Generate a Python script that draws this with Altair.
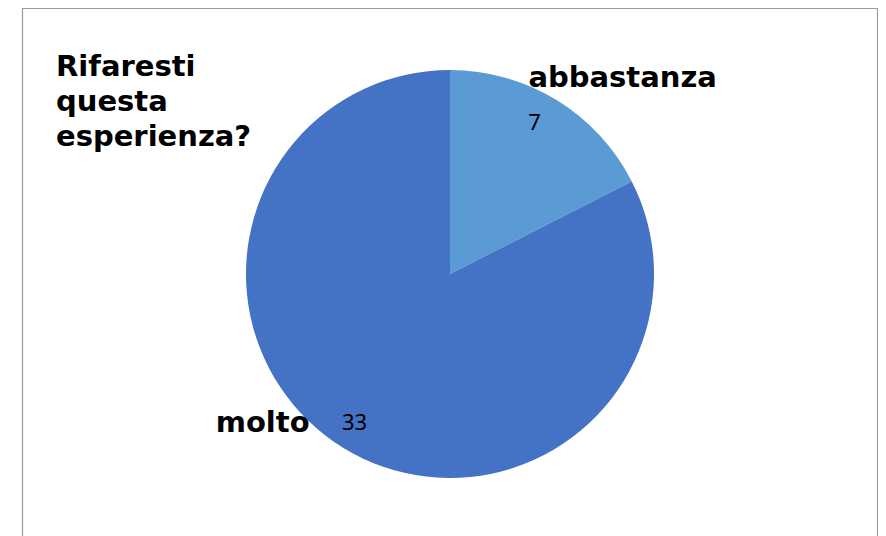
import altair as alt
import pandas as pd

categories = ["abbastanza", "molto"]
values = [7, 33]
colors = ["#5B9BD5", "#4472C4"]
title_lines = ["Rifaresti", "questa", "esperienza?"]

df = pd.DataFrame({"cat": categories, "val": values, "idx": [0, 1]})

CX, CY, R = 442, 266, 204

pie = alt.Chart(df).mark_arc(radius=R, stroke=None).encode(
    theta=alt.Theta("val:Q", stack=True),
    order=alt.Order("idx:Q"),
    x=alt.value(CX),
    y=alt.value(CY),
    color=alt.Color("cat:N", scale=alt.Scale(domain=categories, range=colors), legend=None),
)

lab = alt.Chart(df).transform_window(
    cum="sum(val)", sort=[alt.SortField("idx")], frame=[None, 0]
).transform_calculate(mid="datum.cum - datum.val / 2").encode(
    theta=alt.Theta("mid:Q", stack=False),
    x=alt.value(CX),
    y=alt.value(CY),
)

val_font = dict(font="Noto Sans", fontSize=22, color="#000000", align="center", baseline="middle")
lbl_font = dict(font="DejaVu Sans", fontSize=29, fontWeight="bold", color="#000000", baseline="alphabetic")

v1 = lab.transform_filter(alt.datum.cat == "abbastanza").mark_text(radius=175, dx=-7, dy=-2, **val_font).encode(text="val:Q")
v2 = lab.transform_filter(alt.datum.cat == "molto").mark_text(radius=175, dx=-4, dy=0, **val_font).encode(text="val:Q")
c1 = lab.transform_filter(alt.datum.cat == "abbastanza").mark_text(radius=175, dx=-13, dy=-38, align="left", **lbl_font).encode(text="cat:N")
c2 = lab.transform_filter(alt.datum.cat == "molto").mark_text(radius=175, dx=-49, dy=9, align="right", **lbl_font).encode(text="cat:N")

title = alt.Chart(pd.DataFrame({"t": [0]})).mark_text(
    font="DejaVu Sans", fontSize=29, fontWeight="bold", color="#000000",
    align="left", baseline="alphabetic", lineHeight=35,
).encode(x=alt.value(48), y=alt.value(68), text=alt.value(title_lines))

frame = alt.Chart(pd.DataFrame({"t": [0]})).mark_rect(
    fill=None, stroke="#9a9a9a", strokeWidth=1.2
).encode(x=alt.value(14.5), x2=alt.value(869.5), y=alt.value(0.5), y2=alt.value(600))

chart = alt.layer(frame, pie, v1, v2, c1, c2, title).properties(
    width=870, height=528, autosize=alt.AutoSizeParams(type="none"), padding=0
).configure_view(stroke=None)

chart.save("out.html", embed_options={"renderer": "svg", "actions": False})
